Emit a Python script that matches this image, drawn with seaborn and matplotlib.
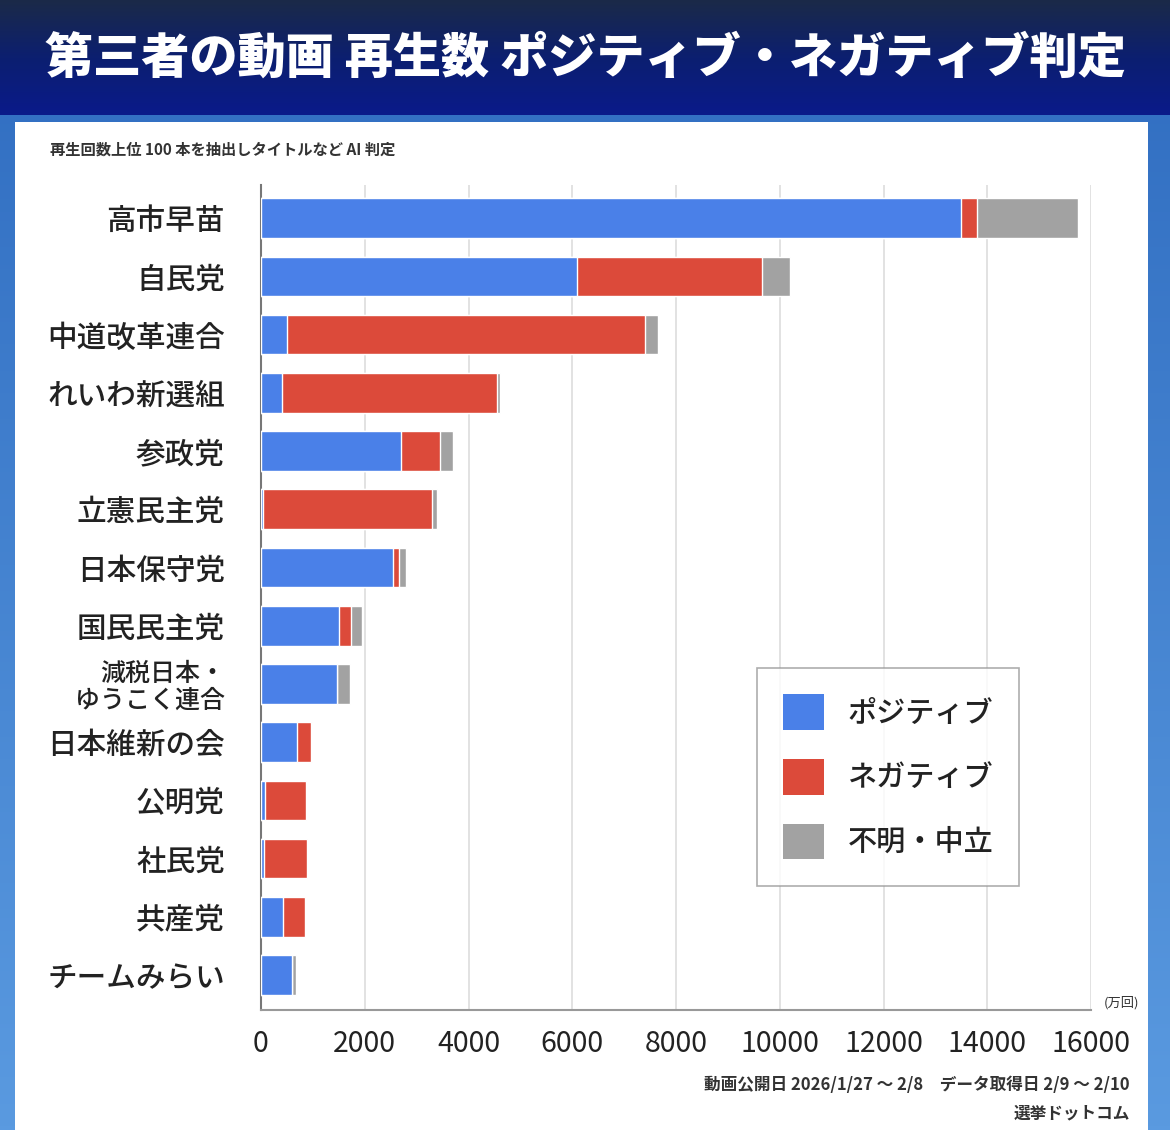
import matplotlib
matplotlib.use("Agg")
import matplotlib.pyplot as plt
from matplotlib.patches import Patch, Rectangle
import numpy as np
import pandas as pd
import seaborn as sns

# data (万回)
parties = ['高市早苗', '自民党', '中道改革連合', 'れいわ新選組', '参政党', '立憲民主党',
           '日本保守党', '国民民主党', '減税日本・\nゆうこく連合', '日本維新の会',
           '公明党', '社民党', '共産党', 'チームみらい']
positive = [13500, 6100, 500, 400, 2700, 30, 2550, 1510, 1470, 700, 80, 60, 430, 590]
negative = [300, 3550, 6900, 4150, 760, 3260, 110, 220, 0, 270, 790, 820, 410, 0]
neutral = [1950, 540, 250, 50, 240, 100, 140, 210, 240, 20, 0, 0, 0, 80]

legend_labels = ['ポジティブ', 'ネガティブ', '不明・中立']
x_ticks = [0, 2000, 4000, 6000, 8000, 10000, 12000, 14000, 16000]

BLUE = '#4a80e8'
RED = '#dc4a3a'
GRAY = '#a2a2a2'

sns.set_theme(style='white')
plt.rcParams['font.family'] = ['Noto Sans CJK JP', 'DejaVu Sans']

df = pd.DataFrame({'party': parties, 'pos': positive, 'neg': negative, 'neu': neutral})
df['pos_neg'] = df['pos'] + df['neg']
df['total'] = df['pos_neg'] + df['neu']

fig = plt.figure(figsize=(11.7, 11.3), dpi=100)

# background: blue gradient, navy title banner, white panel
bg = fig.add_axes([0, 0, 1, 1])
bg.axis('off')
grad = np.linspace(0, 1, 256).reshape(-1, 1)
bg.imshow(grad, extent=[0, 1, 0, 1], aspect='auto',
          cmap=matplotlib.colors.LinearSegmentedColormap.from_list('b', ['#5a9ae0', '#2f6cc0']),
          origin='lower')
ban = fig.add_axes([0, 1 - 115 / 1130, 1, 115 / 1130])
ban.axis('off')
ban.imshow(grad, extent=[0, 1, 0, 1], aspect='auto',
           cmap=matplotlib.colors.LinearSegmentedColormap.from_list('n', ['#0a1a8a', '#0c1f70', '#1b2a48']),
           origin='lower')
bg.add_patch(Rectangle((15 / 1170, 0), 1133 / 1170, 1 - 122 / 1130,
                       facecolor='white', edgecolor='none', transform=fig.transFigure))
bg.set_xlim(0, 1)
bg.set_ylim(0, 1)

fig.text(0.5, 1 - 58 / 1130, '第三者の動画 再生数 ポジティブ・ネガティブ判定',
         ha='center', va='center', color='white', fontsize=34.7, fontweight='heavy')
fig.text(50 / 1170, 1 - 150 / 1130, '再生回数上位 100 本を抽出しタイトルなど AI 判定',
         ha='left', va='center', color='#333333', fontsize=11, fontweight='bold')

ax = fig.add_axes([261 / 1170, 1 - 1010 / 1130, 830 / 1170, 825 / 1130])
ax.set_facecolor('white')
sns.barplot(data=df, x='total', y='party', orient='h', color=GRAY, width=0.68,
            saturation=1, ax=ax, zorder=3)
sns.barplot(data=df, x='pos_neg', y='party', orient='h', color=RED, width=0.68,
            saturation=1, ax=ax, zorder=3)
sns.barplot(data=df, x='pos', y='party', orient='h', color=BLUE, width=0.68,
            saturation=1, ax=ax, zorder=3)

ax.set_xlim(0, 16000)
ax.set_ylim(13.6, -0.57)
ax.set_xticks(x_ticks)
ax.set_xticklabels([str(t) for t in x_ticks], fontsize=20.5, color='#222222')
ax.set_xlabel('')
ax.set_ylabel('')
ax.grid(axis='x', color='#dddddd', linewidth=1.2, zorder=0)
ax.set_axisbelow(True)
for s in ['top', 'right']:
    ax.spines[s].set_visible(False)
ax.spines['left'].set_color('#777777')
ax.spines['bottom'].set_color('#999999')
ax.spines['left'].set_linewidth(1.5)
ax.spines['bottom'].set_linewidth(1.5)
ax.tick_params(axis='x', length=0, pad=14)
ax.tick_params(axis='y', length=0, pad=26)
for lab in ax.get_yticklabels():
    if '\n' in lab.get_text():
        lab.set_fontsize(18)
        lab.set_linespacing(1.05)
    else:
        lab.set_fontsize(21.3)
    lab.set_fontweight('medium')
    lab.set_color('#222222')

ax.text(1.015, 0.0, '(万回)', transform=ax.transAxes, ha='left', va='bottom',
        fontsize=9.5, color='#333333')

handles = [Patch(facecolor=c, edgecolor='none') for c in [BLUE, RED, GRAY]]
leg = ax.legend(handles, legend_labels, loc='upper left',
                bbox_to_anchor=((757 - 261) / 830, (1010 - 668) / 825),
                borderaxespad=0, prop={'size': 21, 'weight': 'medium'},
                handlelength=1.4, handleheight=1.5, handletextpad=0.8,
                labelspacing=1.0, borderpad=0.9, frameon=True, fancybox=False)
leg.get_frame().set_edgecolor('#999999')
leg.get_frame().set_linewidth(1.2)
for t in leg.get_texts():
    t.set_color('#222222')

fig.text(1130 / 1170, 1 - 1085 / 1130, '動画公開日 2026/1/27 ～ 2/8　データ取得日 2/9 ～ 2/10',
         ha='right', va='center', fontsize=12, fontweight='bold', color='#333333')
fig.text(1130 / 1170, 1 - 1113 / 1130, '選挙ドットコム',
         ha='right', va='center', fontsize=12, fontweight='bold', color='#333333')

fig.savefig('out.png', dpi=100)
